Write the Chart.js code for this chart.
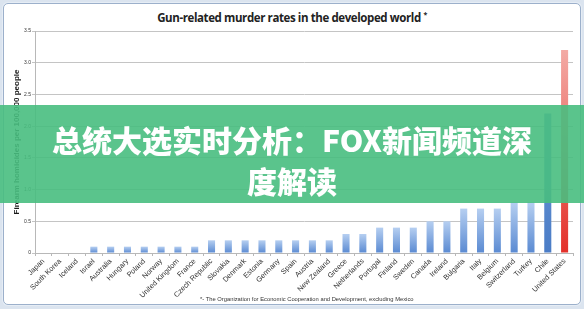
<!DOCTYPE html>
<html>
<head>
<meta charset="utf-8">
<script src="https://cdn.jsdelivr.net/npm/chart.js@4.4.1/dist/chart.umd.min.js"></script>
<style>
    html, body { margin: 0; padding: 0; }
    body { width: 584px; height: 309px; position: relative; overflow: hidden; background: #dbe4ef; }
    #frame { position: absolute; left: 3px; top: 3px; width: 576px; height: 300px; background: #fff;
             border: 1px solid #9cb0cb; border-radius: 5px; box-shadow: 0 0 0 1px #e6edf5; }
    #chartBox { position: absolute; left: 0; top: 0; width: 584px; height: 309px; }
    #titulo { position: absolute; left: 0; width: 584px; top: 10px; text-align: center;
              font: bold 11.5px "Open Sans", sans-serif; color: #222; letter-spacing: -0.4px; }
    #titulo sup { font-size: 7px; }
    #nota { position: absolute; left: 200px; top: 296px; font: 5.8px "Liberation Sans", sans-serif; color: #333; }
    #faixa { position: absolute; left: 0; top: 105px; width: 584px; height: 98px;
             background: rgba(72, 190, 128, 0.9); color: #fff; text-align: center;
             font: 900 30px "Noto Sans CJK SC", sans-serif; line-height: 41px; padding-top: 14px;
             box-sizing: border-box; }
</style>
</head>
<body>
<div id="frame"></div>
<div id="titulo">Gun-related murder rates in the developed world <sup>*</sup></div>
<div id="chartBox"><canvas id="myChart" width="584" height="309"></canvas></div>
<div id="nota">*- The Organization for Economic Cooperation and Development, excluding Mexico</div>
<div id="faixa">总统大选实时分析：FOX新闻频道深<br>度解读</div>
<script>
// dados
var paises = ['Japan', 'South Korea', 'Iceland', 'Israel', 'Australia', 'Hungary', 'Poland', 'Norway',
    'United Kingdom', 'France', 'Czech Republic', 'Slovakia', 'Denmark', 'Estonia', 'Germany', 'Spain',
    'Austria', 'New Zealand', 'Greece', 'Netherlands', 'Portugal', 'Finland', 'Sweden', 'Canada',
    'Ireland', 'Bulgaria', 'Italy', 'Belgium', 'Switzerland', 'Turkey', 'Chile', 'United States'];
var taxas = [0, 0, 0, 0.1, 0.1, 0.1, 0.1, 0.1,
    0.1, 0.1, 0.2, 0.2, 0.2, 0.2, 0.2, 0.2,
    0.2, 0.2, 0.3, 0.3, 0.4, 0.4, 0.4, 0.5,
    0.5, 0.7, 0.7, 0.7, 0.8, 0.8, 2.2, 3.2];
var ticksY = [0, 0.5, 1, 1.5, 2, 2.5, 3, 3.5];

function corBarra(context) {
    var chart = context.chart;
    if (!chart.chartArea) return '#7fa6dd';
    var escala = chart.scales.y;
    var topo = escala.getPixelForValue(context.raw);
    var base = escala.getPixelForValue(0);
    if (base - topo < 1) return '#7fa6dd';
    var g = chart.ctx.createLinearGradient(0, topo, 0, base);
    var nome = paises[context.dataIndex];
    if (nome == 'United States') {
        g.addColorStop(0, '#f3aaa4');
        g.addColorStop(1, '#e3302a');
    } else if (nome == 'Chile') {
        g.addColorStop(0, '#6e9ad8');
        g.addColorStop(1, '#4a7cc6');
    } else {
        g.addColorStop(0, '#b6cff1');
        g.addColorStop(1, '#5a8ad2');
    }
    return g;
}

var ctx = document.getElementById('myChart');
var myChart = new Chart(ctx, {
    type: 'bar',
    data: {
        labels: paises,
        datasets: [{
            label: 'Firearm homicides per 100,000 people',
            data: taxas,
            backgroundColor: corBarra,
            borderWidth: 0,
            barPercentage: 0.42,
            categoryPercentage: 1
        }]
    },
    options: {
        responsive: false,
        animation: false,
        layout: { padding: { top: 31, left: 0, right: 11, bottom: 0 } },
        plugins: {
            legend: { display: false },
            tooltip: { enabled: false }
        },
        scales: {
            x: {
                afterFit: function (s) { s.height = 56; },
                grid: { display: true, drawOnChartArea: false, drawTicks: true, tickLength: 3, color: '#b8b8b8' },
                border: { color: '#b8b8b8' },
                ticks: {
                    autoSkip: false,
                    minRotation: 45,
                    maxRotation: 45,
                    padding: 1,
                    color: '#333',
                    font: { family: 'Liberation Sans', size: 7.3 }
                }
            },
            y: {
                min: 0,
                max: 3.5,
                afterFit: function (s) { s.width = 35; },
                afterBuildTicks: function (s) { s.ticks = ticksY.map(function (v) { return { value: v }; }); },
                grid: { color: '#c4c4c4', tickLength: 3 },
                border: { color: '#b8b8b8' },
                ticks: {
                    padding: 1,
                    color: '#333',
                    font: { family: 'Liberation Sans', size: 5 }
                },
                title: {
                    display: true,
                    text: 'Firearm homicides per 100,000 people',
                    color: '#1a1a1a',
                    padding: { top: 12, bottom: 0 },
                    font: { family: 'Liberation Sans', size: 8, weight: 'bold' }
                }
            }
        }
    }
});
</script>
</body>
</html>
